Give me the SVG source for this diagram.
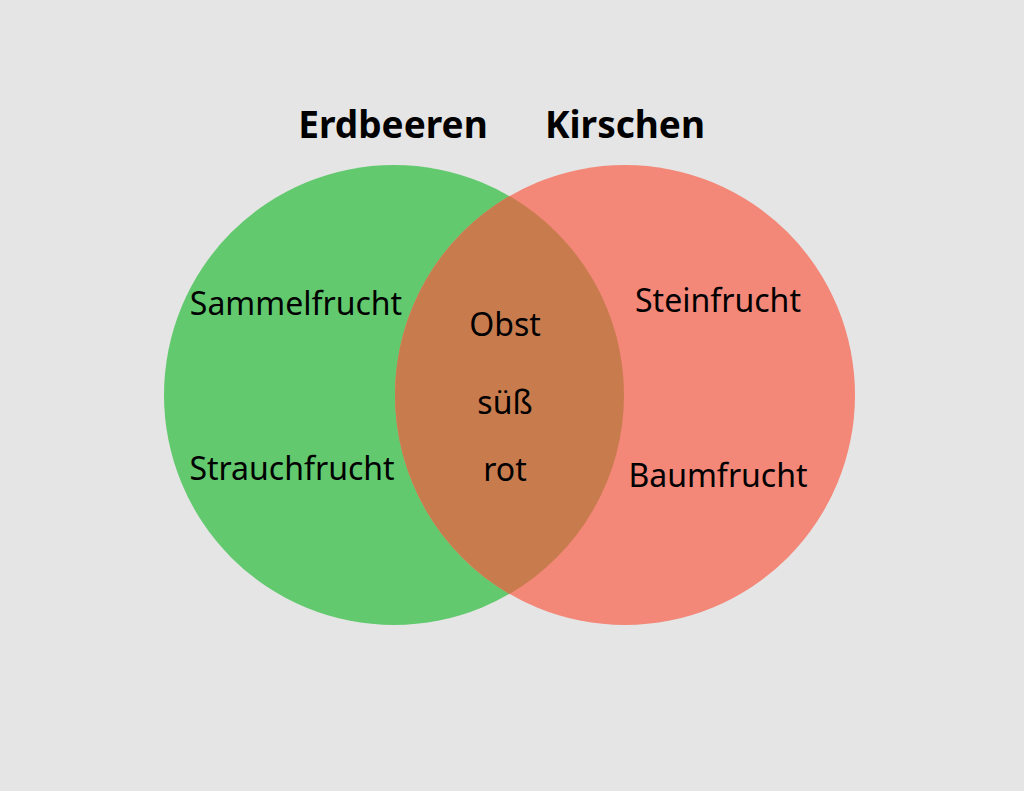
<svg xmlns="http://www.w3.org/2000/svg" width="1024" height="791" viewBox="0 0 1024 791">
<style>
.t{font-family:"Noto Sans","Liberation Sans",sans-serif;font-size:32px;fill:#000;text-anchor:middle}
.h{font-family:"Noto Sans","Liberation Sans",sans-serif;font-size:37px;font-weight:bold;fill:#000;text-anchor:middle}
</style>
<rect width="1024" height="791" fill="#e5e5e5"/>
<g id="erdbeeren">
<circle cx="394" cy="395" r="230" fill="#62c96e"/>
</g>
<g id="kirschen">
<circle cx="625" cy="395" r="230" fill="#f38778"/>
</g>
<g id="overlap">
<path d="M509.5,196.1 A230,230 0 0 1 509.5,593.9 A230,230 0 0 1 509.5,196.1 Z" fill="#c87c4e"/>
</g>
<g id="labels">
<text class="h" x="393" y="138">Erdbeeren</text>
<text class="h" x="625" y="138">Kirschen</text>
<text class="t" x="296" y="315">Sammelfrucht</text>
<text class="t" x="292" y="480">Strauchfrucht</text>
<text class="t" x="505" y="336">Obst</text>
<text class="t" x="505" y="414">süß</text>
<text class="t" x="505" y="481">rot</text>
<text class="t" x="718" y="312">Steinfrucht</text>
<text class="t" x="718" y="487">Baumfrucht</text>
</g>
</svg>
